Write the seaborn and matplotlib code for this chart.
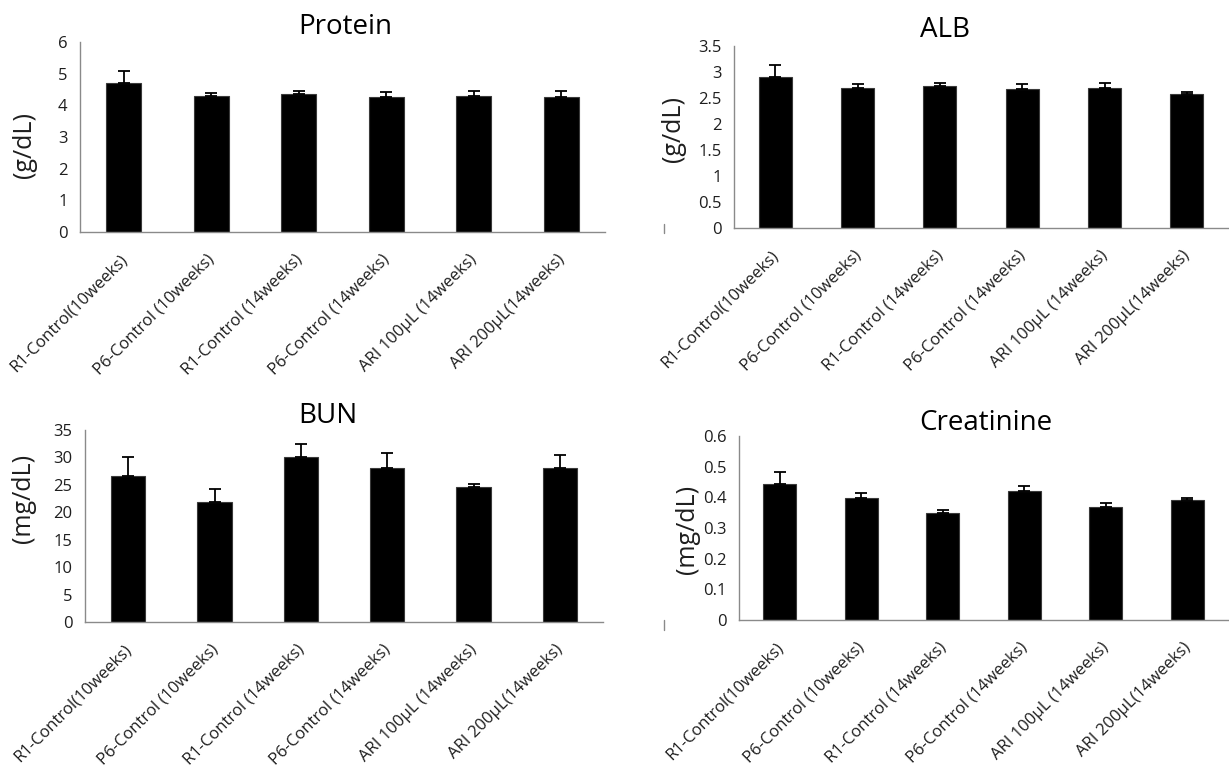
import numpy as np
import pandas as pd
import matplotlib
matplotlib.use("Agg")
import matplotlib.pyplot as plt
import matplotlib.transforms as mtransforms
from matplotlib.lines import Line2D
import seaborn as sns

# Treatment groups (x-axis categories)
groups = [
    "R1-Control(10weeks)",
    "P6-Control (10weeks)",
    "R1-Control (14weeks)",
    "P6-Control (14weeks)",
    "ARI 100\u03bcL (14weeks)",
    "ARI 200\u03bcL(14weeks)",
]

# Serum chemistry means and standard errors per group
protein_mean = [4.72, 4.29, 4.35, 4.26, 4.29, 4.25]
protein_err = [0.37, 0.09, 0.10, 0.15, 0.16, 0.19]

alb_mean = [2.91, 2.69, 2.74, 2.67, 2.69, 2.57]
alb_err = [0.22, 0.07, 0.05, 0.10, 0.09, 0.04]

bun_mean = [26.7, 21.8, 30.1, 28.1, 24.7, 28.0]
bun_err = [3.4, 2.4, 2.4, 2.7, 0.5, 2.4]

creat_mean = [0.442, 0.399, 0.348, 0.420, 0.369, 0.391]
creat_err = [0.041, 0.016, 0.012, 0.016, 0.013, 0.008]

sns.set_theme(style="white")
plt.rcParams["font.family"] = ["Open Sans", "DejaVu Sans"]

AXIS_GREY = "#8a8a8a"
TEXT = "#1e1e1e"

fig = plt.figure(figsize=(12.29, 7.76), dpi=100)
W, H = 1229, 776


def px_axes(left, right, top, bottom):
    return fig.add_axes([left / W, 1 - bottom / H, (right - left) / W, (bottom - top) / H])


panels = [
    dict(title="Protein", mean=protein_mean, err=protein_err, ylim=6, step=1,
         unit="(g/dL)", box=(80, 605, 42, 232), tx=0.505, ty=1.042, lx=-0.082, ly=0.458),
    dict(title="ALB", mean=alb_mean, err=alb_err, ylim=3.5, step=0.5,
         unit="(g/dL)", box=(734, 1228, 46, 228), tx=0.427, ty=1.049, lx=-0.097, ly=0.544),
    dict(title="BUN", mean=bun_mean, err=bun_err, ylim=35, step=5,
         unit="(mg/dL)", box=(85, 603, 430, 622), tx=0.469, ty=1.036, lx=-0.094, ly=0.646),
    dict(title="Creatinine", mean=creat_mean, err=creat_err, ylim=0.6, step=0.1,
         unit="(mg/dL)", box=(739, 1228, 436, 620), tx=0.504, ty=1.033, lx=-0.079, ly=0.49),
]

for p in panels:
    ax = px_axes(*p["box"])
    df = pd.DataFrame({"group": groups, "value": p["mean"]})
    sns.barplot(data=df, x="group", y="value", order=groups, color="black",
                width=0.4, errorbar=None, saturation=1, edgecolor="#3a3a3a",
                linewidth=0.8, ax=ax)
    n = len(groups)
    ax.errorbar(np.arange(n), p["mean"], yerr=[np.zeros(n), p["err"]], fmt="none",
                ecolor="black", elinewidth=1.3, capsize=4, capthick=1.3, zorder=3)

    ax.set_xlim(-0.5, n - 0.5)
    ax.set_ylim(0, p["ylim"])
    yt = np.round(np.arange(0, p["ylim"] + p["step"] / 2, p["step"]), 3)
    ax.set_yticks(yt)
    ax.set_yticklabels([f"{v:g}" for v in yt])

    # tick marks sit on category boundaries, labels sit under the bars
    ax.set_xticks(np.arange(-0.5, n, 1.0))
    ax.set_xticklabels([])
    ax.set_xticks(np.arange(n), minor=True)
    ax.set_xticklabels(groups, minor=True)
    ax.tick_params(axis="x", which="major", length=6, width=1, color=AXIS_GREY, direction="out")
    ax.tick_params(axis="x", which="minor", length=0, pad=18, labelsize=12, labelcolor=TEXT)
    ax.tick_params(axis="y", length=5, width=1, color=AXIS_GREY, direction="out",
                   labelsize=12, labelcolor=TEXT, pad=4)
    shift = mtransforms.ScaledTranslation(0.01, 0, fig.dpi_scale_trans)
    for lab in ax.get_xticklabels(minor=True):
        lab.set_rotation(45)
        lab.set_ha("right")
        lab.set_va("center")
        lab.set_rotation_mode("anchor")
        lab.set_transform(lab.get_transform() + shift)

    for side in ("top", "right"):
        ax.spines[side].set_visible(False)
    for side in ("left", "bottom"):
        ax.spines[side].set_color(AXIS_GREY)
        ax.spines[side].set_linewidth(1)

    ax.set_xlabel("")
    ax.set_ylabel(p["unit"], fontsize=18, color=TEXT)
    ax.yaxis.set_label_coords(p["lx"], p["ly"])
    ax.text(p["tx"], p["ty"], p["title"], transform=ax.transAxes, ha="center",
            va="baseline", fontsize=20, color="black")
    ax.set_facecolor("white")

# small stray rule marks to the left of the right-hand panels
for y0, y1 in ((224, 233), (620, 630)):
    fig.add_artist(Line2D([664 / W, 664 / W], [1 - y0 / H, 1 - y1 / H],
                          color=AXIS_GREY, lw=1))

fig.savefig("out.png", dpi=100, facecolor="white")
